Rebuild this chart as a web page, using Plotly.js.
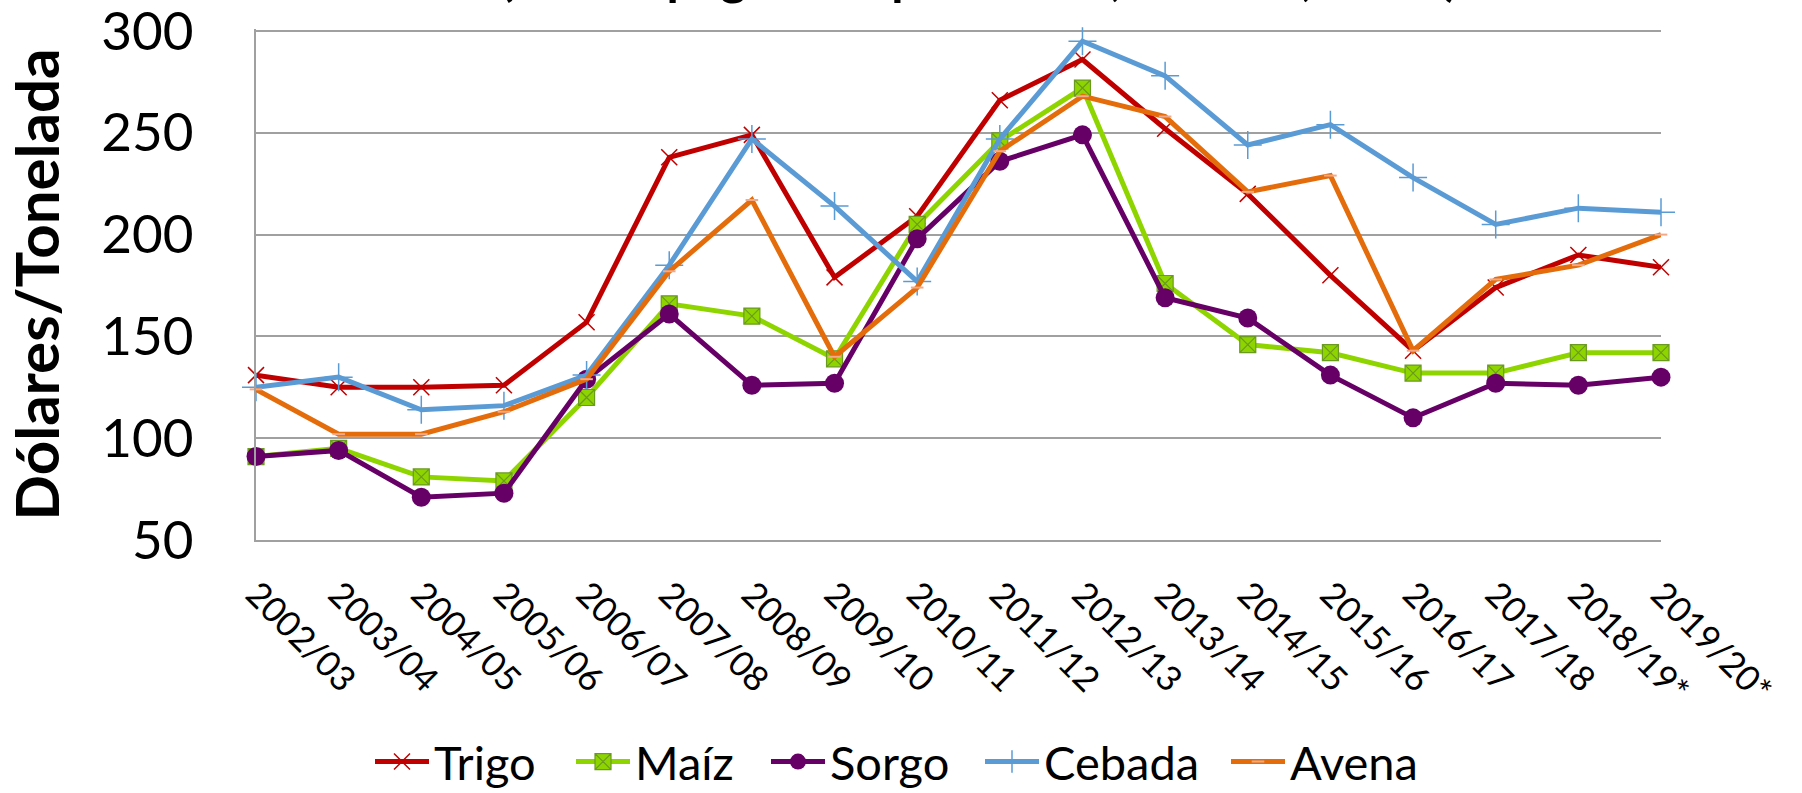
<!DOCTYPE html>
<html>
<head>
<meta charset="utf-8">
<script src="https://cdn.plot.ly/plotly-3.0.1.min.js"></script>
<style>html,body{margin:0;padding:0;background:#fff;}#chart{width:1802px;height:793px;}</style>
</head>
<body>
<div id="chart"></div>
<script>
const categories = ["2002/03","2003/04","2004/05","2005/06","2006/07","2007/08","2008/09","2009/10","2010/11","2011/12","2012/13","2013/14","2014/15","2015/16","2016/17","2017/18","2018/19*","2019/20*"];
const trigo  = [131,125,125,126,157,238,249,179,209,266,286,252,220,180,143,174,190,184];
const maiz   = [91,95,81,79,120,166,160,139,205,246,272,176,146,142,132,132,142,142];
const sorgo  = [91,94,71,73,129,161,126,127,198,236,249,169,159,131,110,127,126,130];
const cebada = [125,130,114,116,131,185,247,214,177,247,295,278,244,254,228,205,213,211];
const avena  = [124,102,102,113,129,182,217,140,174,241,268,258,221,229,143,178,185,200];
const yTicks = [50,100,150,200,250,300];

const FONT = "Lato, 'Open Sans', sans-serif";

function series(name, y, color, marker, legendId) {
  return {
    type: 'scatter', mode: 'lines+markers', name: name, legend: legendId,
    x: categories, y: y, cliponaxis: false,
    line: {color: color, width: 5},
    marker: marker
  };
}

const data = [
  series('Trigo', trigo, '#C00000', {symbol: 'x-thin-open', size: 16, color: '#C00000', line: {color: '#C00000', width: 1.5}}, 'legend'),
  series('Maíz', maiz, '#8ED500', {symbol: 'square-x', size: 16, color: '#8ED500', line: {color: '#6A9A20', width: 1.2}}, 'legend2'),
  series('Sorgo', sorgo, '#660066', {symbol: 'circle', size: 19, color: '#660066', line: {width: 0}}, 'legend3'),
  series('Cebada', cebada, '#5B9BD5', {symbol: 'cross-thin-open', size: 20, color: '#5B9BD5', line: {color: '#5B9BD5', width: 1.5}}, 'legend4'),
  series('Avena', avena, '#E46C0A', {symbol: 'line-ew-open', size: 9, color: '#F2A98A', line: {color: '#F2A98A', width: 2}}, 'legend5')
];

function leg(px) {
  return {
    orientation: 'h',
    xref: 'container', yref: 'container',
    x: px / 1802, xanchor: 'left',
    y: 1 - 762/793, yanchor: 'middle',
    font: {family: FONT, size: 47},
    itemwidth: 54,
    bgcolor: 'rgba(0,0,0,0)'
  };
}

const layout = {
  width: 1802, height: 793,
  paper_bgcolor: '#ffffff', plot_bgcolor: '#ffffff',
  font: {family: FONT, color: '#000000'},
  margin: {l: 256, r: 141, t: 29, b: 253, autoexpand: false},
  title: {
    text: '(Precio pagado al productor, EE. UU., anual)',
    font: {family: FONT, size: 50, weight: 'bold', color: '#000000'},
    xref: 'container', yref: 'container',
    x: 500/1802, xanchor: 'left',
    y: 1.0, yanchor: 'bottom',
    pad: {b: 5}
  },
  xaxis: {
    type: 'category',
    range: [0, categories.length - 1],
    showgrid: false,
    showline: true, linecolor: '#A0A0A0', linewidth: 2,
    ticks: '',
    tickangle: 45,
    tickfont: {family: FONT, size: 35},
    ticklabelstandoff: 18,
    automargin: false,
    zeroline: false
  },
  yaxis: {
    range: [50, 301],
    tickmode: 'array', tickvals: yTicks, ticktext: yTicks.map(String),
    showgrid: true, gridcolor: '#A0A0A0', gridwidth: 2,
    showline: true, linecolor: '#A0A0A0', linewidth: 2,
    ticks: '',
    tickfont: {family: FONT, size: 53},
    ticklabelstandoff: 50,
    ticklabeloverflow: 'allow',
    zeroline: false,
    automargin: false,
    title: {text: 'Dólares/Tonelada', font: {family: FONT, size: 60, weight: 'bold'}, standoff: 25}
  },
  showlegend: true,
  legend: leg(370),
  legend2: leg(571),
  legend3: leg(766),
  legend4: leg(980),
  legend5: leg(1226)
};

Plotly.newPlot('chart', data, layout, {displayModeBar: false, staticPlot: true});
</script>
</body>
</html>
